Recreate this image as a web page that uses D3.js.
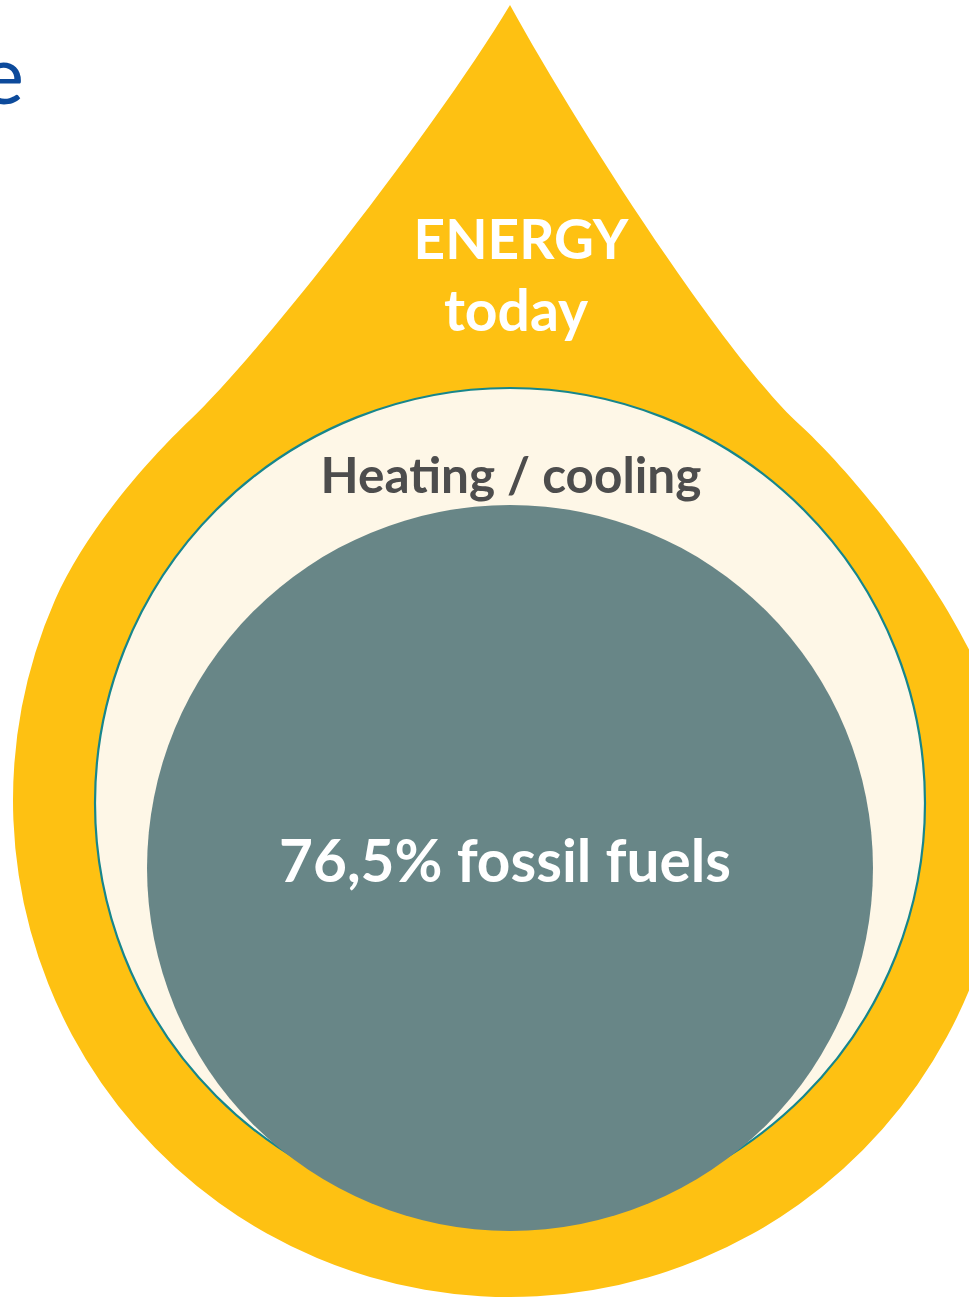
<!DOCTYPE html>
<html>
<head>
<meta charset="utf-8">
<script src="https://cdn.jsdelivr.net/npm/d3@7/dist/d3.min.js"></script>
<style>
  html, body { margin: 0; padding: 0; background: #ffffff; }
  svg { display: block; }
</style>
</head>
<body>
<svg id="chart" width="969" height="1298"></svg>
<script>
// ---- data ----
const titleFragment = ["e"];
const dropLabels = ["ENERGY", "today"];
const categories = ["Heating / cooling"];
const fossilShare = [76.5];          // percent of heating / cooling
const shareLabels = ["76,5% fossil fuels"];

// ---- drawing ----
const svg = d3.select("#chart");
const colors = { drop: "#FEC112", cream: "#FEF7E7", ring: "#17868C", fossil: "#688687", title: "#0C4A9B", dark: "#4D4D4D" };

// drop outline: pointed top + circular bulb
const cx = 510, cy = 800, R = 497;
const tip = [510, 5];
const norm = (v) => { const l = Math.hypot(v[0], v[1]); return [v[0] / l, v[1] / l]; };
const add = (p, d, t) => [p[0] + d[0] * t, p[1] + d[1] * t];

// right side
const dR0 = norm([63, 115]);
const KR = [800, 425], dKR = norm([110, 100]);
const thR = -4 * Math.PI / 180;
const JR = [cx + R * Math.cos(thR), cy + R * Math.sin(thR)];
const upR = [Math.sin(thR), -Math.cos(thR)];
// left side
const dL0 = norm([-69, 115]);
const KL = [190, 420], dKL = norm([-76, 72]);
const thL = Math.PI + Math.asin((cy - 600) / R);
const JL = [cx + R * Math.cos(thL), cy + R * Math.sin(thL)];
const upL = [-Math.sin(thL), Math.cos(thL)];

const p = d3.path();
p.moveTo(...tip);
let c1 = add(tip, dR0, 140), c2 = add(KR, dKR, -100);
p.bezierCurveTo(...c1, ...c2, ...KR);
c1 = add(KR, dKR, 80); c2 = add(JR, upR, 120);
p.bezierCurveTo(...c1, ...c2, ...JR);
p.arc(cx, cy, R, thR, thL, false);
c1 = add(JL, upL, 80); c2 = add(KL, dKL, 50);
p.bezierCurveTo(...c1, ...c2, ...KL);
c1 = add(KL, dKL, -100); c2 = add(tip, dL0, 140);
p.bezierCurveTo(...c1, ...c2, ...tip);
p.closePath();
svg.append("path").attr("d", p.toString()).attr("fill", colors.drop);

// sector circle (heating / cooling = 100%) and fossil share, area-proportional
const rScale = d3.scaleSqrt().domain([0, 100]).range([0, 415]);
svg.append("circle")
  .attr("cx", 510).attr("cy", 803).attr("r", rScale(100))
  .attr("fill", colors.cream).attr("stroke", colors.ring).attr("stroke-width", 2.2);

const rF = rScale(fossilShare[0]);
svg.append("circle")
  .attr("cx", 510).attr("cy", 505 + rF).attr("r", rF)
  .attr("fill", colors.fossil);

// texts
const font = "Lato, 'Open Sans', sans-serif";
svg.append("text").text(titleFragment[0])
  .attr("x", 24).attr("y", 104).attr("text-anchor", "end")
  .attr("font-family", font).attr("font-size", 82).attr("fill", colors.title);

svg.append("text").text(dropLabels[0])
  .attr("x", 521).attr("y", 259).attr("text-anchor", "middle")
  .attr("font-family", font).attr("font-weight", 700).attr("font-size", 55).attr("fill", "#fff");
svg.append("text").text(dropLabels[1])
  .attr("x", 516).attr("y", 331).attr("text-anchor", "middle")
  .attr("font-family", font).attr("font-weight", 700).attr("font-size", 57).attr("fill", "#fff");

svg.append("text").text(categories[0])
  .attr("x", 511).attr("y", 493).attr("text-anchor", "middle")
  .attr("font-family", font).attr("font-weight", 700).attr("font-size", 49.5).attr("fill", colors.dark);

svg.append("text").text(shareLabels[0])
  .attr("x", 505).attr("y", 882).attr("text-anchor", "middle")
  .attr("font-family", font).attr("font-weight", 700).attr("font-size", 58.5).attr("fill", "#fff");
</script>
</body>
</html>
